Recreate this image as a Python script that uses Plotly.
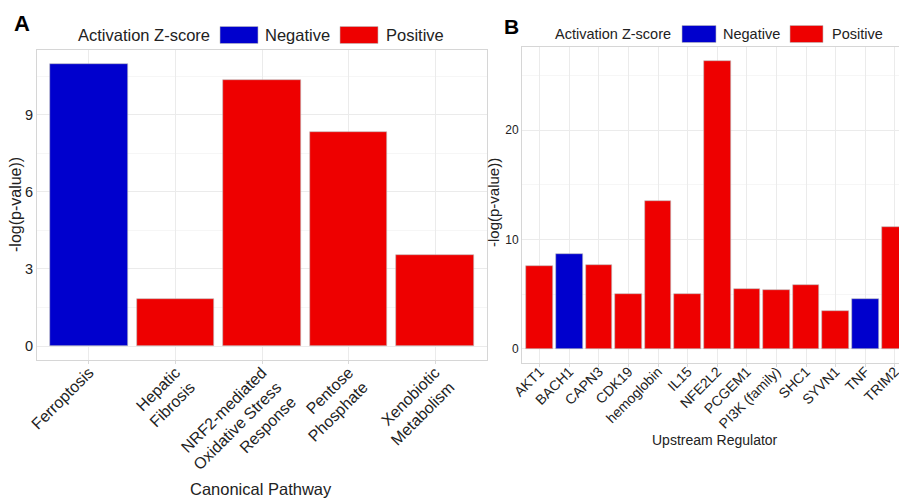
import plotly.graph_objects as go

# ---------------- data ----------------
pathway_labels = ["Ferroptosis", "Hepatic<br>Fibrosis", "NRF2-mediated<br>Oxidative Stress<br>Response",
                  "Pentose<br>Phosphate", "Xenobiotic<br>Metabolism"]
pathway_values = [10.97, 1.83, 10.35, 8.33, 3.54]
pathway_zscore = ["Negative", "Positive", "Positive", "Positive", "Positive"]

regulator_labels = ["AKT1", "BACH1", "CAPN3", "CDK19", "hemoglobin", "IL15", "NFE2L2", "PCGEM1",
                    "PI3K (family)", "SHC1", "SYVN1", "TNF", "TRIM2"]
regulator_values = [7.58, 8.67, 7.62, 5.05, 13.5, 5.05, 26.3, 5.5, 5.4, 5.85, 3.47, 4.57, 11.1]
regulator_zscore = ["Positive", "Negative", "Positive", "Positive", "Positive", "Positive", "Positive",
                    "Positive", "Positive", "Positive", "Positive", "Negative", "Positive"]

yticks_a = [0, 3, 6, 9]
yticks_b = [0, 10, 20]

COLORS = {"Negative": "#0000CD", "Positive": "#EE0000"}
FONT = "Liberation Sans, Arial, sans-serif"
OFF = 8                      # page body margin
W, H = 907 - OFF, 500 - OFF  # figure size so that it fills the window


def px(x):
    return (x - OFF) / W


def py(y):
    return 1 - (y - OFF) / H


fig = go.Figure()
fig.add_trace(go.Bar(
    x=pathway_labels, y=pathway_values, width=0.9,
    marker=dict(color=[COLORS[z] for z in pathway_zscore], line=dict(color="#bdbdbd", width=0.6)),
    xaxis="x", yaxis="y", showlegend=False))
fig.add_trace(go.Bar(
    x=regulator_labels, y=regulator_values, width=0.9,
    marker=dict(color=[COLORS[z] for z in regulator_zscore], line=dict(color="#bdbdbd", width=0.6)),
    xaxis="x2", yaxis="y2", showlegend=False))

axis_common = dict(showline=True, linecolor="#d6d6d6", linewidth=1, mirror=True,
                   gridcolor="#ebebeb", gridwidth=1, zeroline=False, automargin=False)
xtick_style = dict(ticks="outside", ticklen=3, tickcolor="#d9d9d9")

fig.update_layout(
    width=W, height=H, margin=dict(l=0, r=0, t=0, b=0),
    paper_bgcolor="white", plot_bgcolor="white",
    font=dict(family=FONT, color="#222"),
    bargap=0,
    xaxis=dict(domain=[px(37), px(487)], anchor="y", type="category",
               range=[-0.6, len(pathway_labels) - 0.4], tickangle=-45,
               ticklabelstandoff=-7,
               tickfont=dict(size=16, color="#222"), **xtick_style, **axis_common),
    yaxis=dict(domain=[py(360), py(50)], anchor="x", range=[-0.545, 11.52],
               tickvals=yticks_a, tickfont=dict(size=14.5, color="#222"), ticks="",
               minor=dict(dtick=1.5, tick0=0, showgrid=True, gridcolor="#f6f6f6", ticks=""),
               **axis_common),
    xaxis2=dict(domain=[px(522), 1], anchor="y2", type="category",
                range=[-0.6, 12.41], tickangle=-45,
                ticklabelstandoff=-9,
                tickfont=dict(size=14, color="#222"), **xtick_style, **axis_common),
    yaxis2=dict(domain=[py(363), py(47)], anchor="x2", range=[-1.3, 27.6],
                tickvals=yticks_b, tickfont=dict(size=12, color="#222"), ticks="",
                minor=dict(dtick=5, tick0=0, showgrid=True, gridcolor="#f6f6f6", ticks=""),
                **axis_common),
)

ann = []


def text(x, y, s, size, xanchor="center", yanchor="middle", color="#222", **kw):
    ann.append(dict(x=px(x), y=py(y), xref="paper", yref="paper", text=s, showarrow=False,
                    xanchor=xanchor, yanchor=yanchor,
                    font=dict(size=size, family=FONT, color=color), **kw))


# panel letters
text(12, 23, "<b>A</b>", 22, xanchor="left", color="#000")
text(502, 27, "<b>B</b>", 21, xanchor="left", color="#000")
# axis titles
text(15, 205, "-log(p-value))", 16, textangle=-90)
text(493, 203, "-log(p-value))", 15, textangle=-90)
text(261, 489, "Canonical Pathway", 16.5)
text(715, 440, "Upstream Regulator", 14)

# legends (title + keys)
shapes = []


def legend(x_title, y_c, size, keys):
    text(x_title, y_c, "Activation Z-score", size, xanchor="left")
    for (x0, x1, lx, lab) in keys:
        shapes.append(dict(type="rect", xref="paper", yref="paper",
                           x0=px(x0), x1=px(x1), y0=py(y_c + 8.5), y1=py(y_c - 8.5),
                           fillcolor=COLORS[lab], line=dict(color="#bdbdbd", width=0.6)))
        text(lx, y_c, lab, size, xanchor="left")


legend(76, 35, 16.5, [(220, 258, 263, "Negative"), (340, 378, 384, "Positive")])
legend(553, 34, 14.5, [(682, 716, 721, "Negative"), (790, 823, 830, "Positive")])

fig.update_layout(annotations=ann, shapes=shapes)
fig.write_html("out.html")
